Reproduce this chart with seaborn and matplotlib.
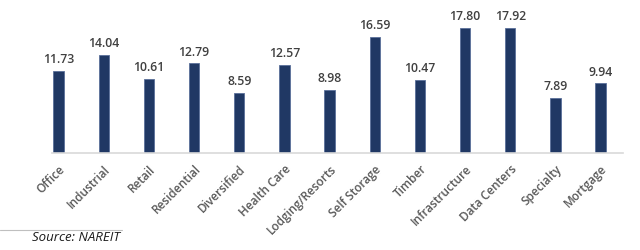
import matplotlib
matplotlib.use("Agg")
import matplotlib.pyplot as plt
import seaborn as sns
import pandas as pd

categories = ["Office", "Industrial", "Retail", "Residential", "Diversified", "Health Care",
              "Lodging/Resorts", "Self Storage", "Timber", "Infrastructure", "Data Centers",
              "Specialty", "Mortgage"]
values = [11.73, 14.04, 10.61, 12.79, 8.59, 12.57, 8.98, 16.59, 10.47, 17.80, 17.92, 7.89, 9.94]
source_text = "Source: NAREIT"

sns.set_theme(style="white")
plt.rcParams['font.family'] = ['Open Sans', 'DejaVu Sans']

df = pd.DataFrame({"cat": categories, "val": values})

fig = plt.figure(figsize=(6.4, 2.5), dpi=100)
ax = fig.add_axes([0.081, 0.388, 0.892, 0.56])
sns.barplot(data=df, x="cat", y="val", color="#203864", width=0.23, ax=ax,
            edgecolor="#5a6f9a", linewidth=0.6, saturation=1)
ax.set_ylim(0, 20)
ax.set_xlim(-0.15, 12.49)
for i, v in enumerate(values):
    ax.text(i, v + 0.7, f"{v:.2f}", ha="center", va="bottom", fontsize=8.8,
            fontweight="semibold", color="#404040")
ax.set_xlabel("")
ax.set_ylabel("")
ax.set_yticks([])
for s in ["top", "right", "left"]:
    ax.spines[s].set_visible(False)
ax.spines["bottom"].set_color("#d9d9d9")
ax.spines["bottom"].set_linewidth(1.2)
ax.tick_params(axis="x", length=0, pad=7)
ax.set_xticks(range(len(categories)))
ax.set_xticklabels(categories, rotation=45, ha="right", rotation_mode="anchor",
                   fontsize=8.5, fontweight="semibold", color="#595959")

fig.add_artist(plt.Line2D([0, 0.19], [0.079, 0.079], color="#bfbfbf", lw=0.8))
fig.text(0.188, 0.05, source_text, ha="right", va="center", fontsize=9.5,
         style="italic", color="#1a1a1a")

fig.savefig("out.png", dpi=100)
